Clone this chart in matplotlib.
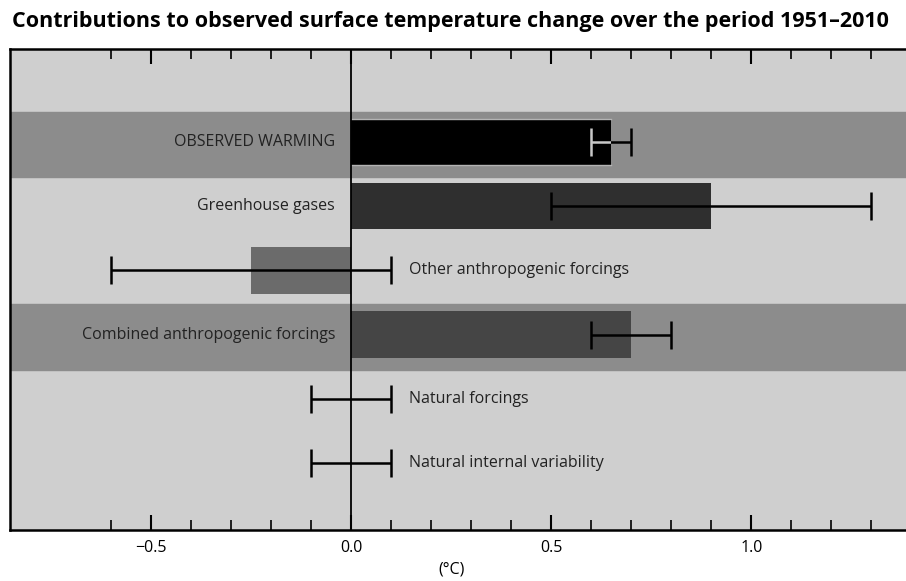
import matplotlib.pyplot as plt
import numpy as np

# contributions to 1951-2010 warming, degC
labels = ["OBSERVED WARMING", "Greenhouse gases", "Other anthropogenic forcings",
          "Combined anthropogenic forcings", "Natural forcings", "Natural internal variability"]
best = [0.65, 0.9, -0.25, 0.7, 0.0, 0.0]
err_lo = [0.6, 0.5, -0.6, 0.6, -0.1, -0.1]
err_hi = [0.7, 1.3, 0.1, 0.8, 0.1, 0.1]
has_bar = [True, True, True, True, False, False]
banded = [True, False, False, True, False, False]
bar_colors = ["#000000", "#2f2f2f", "#6b6b6b", "#454545", "none", "none"]

major_ticks = [-0.5, 0.0, 0.5, 1.0]
major_labels = ["\u22120.5", "0.0", "0.5", "1.0"]
minor_ticks = np.round(np.arange(-0.6, 1.31, 0.1), 1)

plt.rcParams['font.family'] = ['Open Sans', 'DejaVu Sans']

fig = plt.figure(figsize=(9.06, 5.81), dpi=100)
ax = fig.add_axes([0.011, 0.088, 0.995, 0.828])
ax.set_facecolor("#cfcfcf")
ax.set_xlim(-0.852, 1.40)
ax.set_ylim(6.04, -1.45)

y = np.arange(len(labels))

# darker bands behind observed and combined rows
for yi, b in zip(y, banded):
    if b:
        ax.axhspan(yi - 0.47, yi + 0.55, color="#8c8c8c", zorder=0)

ax.axvline(0, color="black", lw=1.3, zorder=4)

for yi, v, lo, hi, hb, col in zip(y, best, err_lo, err_hi, has_bar, bar_colors):
    if hb:
        bar = ax.barh(yi, v, height=0.72, color=col, lw=0, zorder=2)[0]
    ax.errorbar([v], [yi], xerr=[[v - lo], [hi - v]], fmt="none", ecolor="black",
                elinewidth=1.8, capsize=10, capthick=1.8, zorder=3)
    if hb and col == "#000000":
        # thin light rims on the black bar
        ax.plot([0, v], [yi - 0.36, yi - 0.36], color="#b4b4b4", lw=1, zorder=2.5)
        ax.plot([0, v], [yi + 0.36, yi + 0.36], color="#b4b4b4", lw=1, zorder=2.5)
        # light part of the error bar where it sits on the black bar
        eb = ax.errorbar([v], [yi], xerr=[[v - lo], [hi - v]], fmt="none", ecolor="#c8c8c8",
                         elinewidth=1.8, capsize=10, capthick=1.8, zorder=3.5)
        for art in eb.lines[1] + eb.lines[2]:
            art.set_clip_path(bar)

for yi, lab, v, hi in zip(y, labels, best, err_hi):
    if v > 0:
        ax.text(-0.04, yi, lab, ha="right", va="center", fontsize=11.5, color="#222222", zorder=5)
    else:
        ax.text(hi + 0.045, yi, lab, ha="left", va="center", fontsize=11.5, color="#222222", zorder=5)

ax.set_yticks([])
ax.set_xticks(major_ticks)
ax.set_xticklabels(major_labels, fontsize=11.5)
ax.set_xticks(minor_ticks, minor=True)
ax.tick_params(axis="x", which="major", direction="in", length=11, width=1.5,
               top=True, bottom=True, pad=7)
ax.tick_params(axis="x", which="minor", direction="in", length=7, width=1.2,
               top=True, bottom=True)
for s in ["left", "top", "bottom"]:
    ax.spines[s].set_linewidth(1.8)
ax.spines["right"].set_visible(False)

ax.set_xlabel("(\u00b0C)", fontsize=11.5, labelpad=2)
ax.xaxis.set_label_coords((0.25 + 0.852) / 2.252, -0.065)

fig.text(0.013, 0.963, "Contributions to observed surface temperature change over the period 1951\u20132010",
         fontsize=15.5, fontweight="bold", ha="left", va="center")

fig.savefig("out.png", dpi=100)
